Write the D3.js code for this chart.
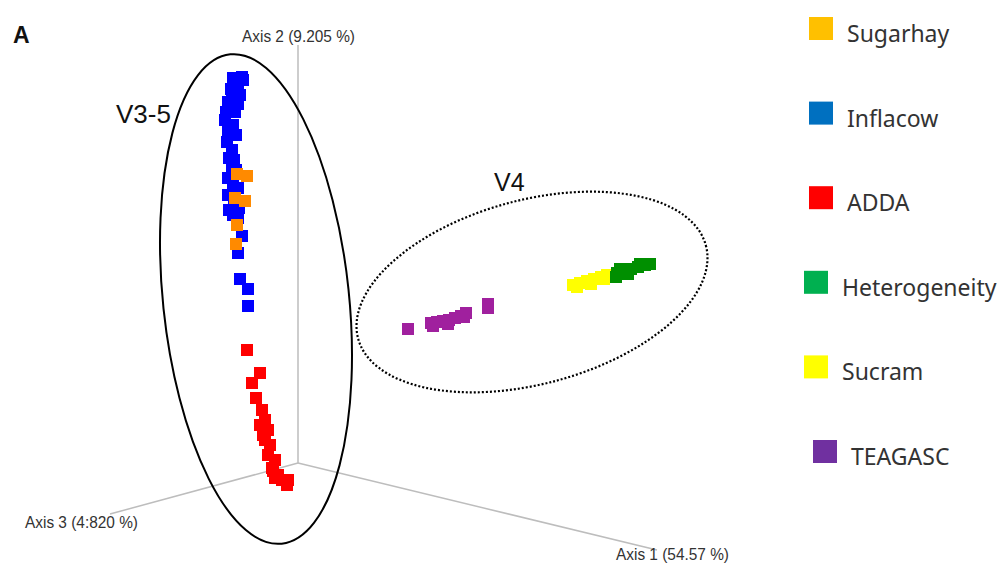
<!DOCTYPE html>
<meta charset="utf-8">
<style>
body { margin: 0; background: #fff; }
svg { display: block; }
.axis-line { stroke: #bdbdbd; stroke-width: 1.5; fill: none; }
.axis-label { font-family: "Liberation Sans", Arial, sans-serif; font-size: 17px; fill: #333; }
.group-label { font-family: "Liberation Sans", Arial, sans-serif; fill: #111; }
.legend text { font-family: "Noto Sans", "Open Sans", sans-serif; font-size: 23px; fill: #333; }
</style>
<svg width="999" height="563"></svg>
<script src="https://d3js.org/d3.v7.min.js"></script>
<script>

// projected PCoA coordinates (u = horizontal, v = vertical, origin at axes origin)
var sugarhay = [[-61, 289], [-51, 287], [-63, 265], [-53, 262], [-61, 238], [-62, 219]];

var inflacow = [
  [-65, 385], [-55, 383], [-60, 377], [-66, 368], [-58, 368], [-70, 361], [-60, 359],
  [-72, 351], [-63, 351], [-73, 343], [-65, 338], [-70, 331], [-62, 328], [-71, 321],
  [-66, 313], [-69, 305], [-64, 303], [-66, 295], [-62, 293], [-70, 285], [-65, 280],
  [-60, 275], [-70, 268], [-64, 261], [-59, 255], [-69, 253], [-65, 248], [-60, 245],
  [-56, 227], [-60, 210], [-58, 184], [-50, 174], [-50, 157], [-56, 386], [-67, 374]
];

var adda = [
  [-51, 113], [-38, 90], [-46, 80], [-42, 65], [-36, 53], [-33, 43], [-38, 38],
  [-30, 33], [-33, 23], [-28, 18], [-30, 8], [-23, 3], [-26, -5], [-20, -12],
  [-23, -15], [-16, -17], [-10, -17], [-11, -22], [-35, 28], [-25, -8]
];

var heterogeneity = [
  [319, 190], [326, 192], [333, 194], [340, 196], [347, 198], [352, 199],
  [322, 194], [342, 199], [318, 186], [330, 189]
];

var sucram = [[275, 178], [282, 180], [289, 182], [296, 184], [303, 186], [309, 188], [279, 176], [293, 179], [306, 184]];

var teagasc = [
  [110, 134], [133, 140], [139, 141], [145, 142], [151, 143], [157, 145], [163, 147],
  [168, 150], [190, 155], [135, 137], [150, 139], [166, 146], [190, 159]
];

var categories = ["Sugarhay", "Inflacow", "ADDA", "Heterogeneity", "Sucram", "TEAGASC"];
var legendColors = ["#ffc000", "#0070c0", "#ff0000", "#00b050", "#ffff00", "#7030a0"];
var pointColors = ["#ff8a00", "#0000ff", "#ff0000", "#008f00", "#ffff00", "#a0209e"];

var axisNames = ["Axis 1 (54.57 %)", "Axis 2 (9.205 %)", "Axis 3 (4:820 %)"];
var axisEnds = [[359, -87], [0, 418], [-188, -51]];

var svg = d3.select("svg");

var x = d3.scaleLinear().domain([0, 400]).range([298, 698]);
var y = d3.scaleLinear().domain([0, 420]).range([463, 43]);

// axes
svg.append("g").selectAll("line")
  .data(axisEnds)
  .join("line")
    .attr("class", "axis-line")
    .attr("x1", x(0)).attr("y1", y(0))
    .attr("x2", d => x(d[0])).attr("y2", d => y(d[1]));

var labelPos = [[318, -97], [-56, 421], [-273, -65]];
svg.append("g").selectAll("text")
  .data(axisNames)
  .join("text")
    .attr("class", "axis-label")
    .attr("x", (d, i) => x(labelPos[i][0]))
    .attr("y", (d, i) => y(labelPos[i][1]))
    .attr("textLength", 113)
    .attr("lengthAdjust", "spacingAndGlyphs")
    .text(d => d);

// points: draw order so that orange sits over blue
var series = [inflacow, sugarhay, adda, teagasc, sucram, heterogeneity];
var seriesIdx = [1, 0, 2, 5, 4, 3];
var size = 12;

series.forEach(function(pts, k) {
  svg.append("g").selectAll("rect")
    .data(pts)
    .join("rect")
      .attr("x", d => x(d[0]) - size / 2)
      .attr("y", d => y(d[1]) - size / 2)
      .attr("width", size)
      .attr("height", size)
      .attr("fill", pointColors[seriesIdx[k]]);
});

// group ellipses
svg.append("ellipse")
    .attr("transform", "translate(" + x(-42) + "," + y(164) + ") rotate(-6)")
    .attr("rx", 93).attr("ry", 246)
    .attr("fill", "none").attr("stroke", "#000").attr("stroke-width", 2);

svg.append("ellipse")
    .attr("transform", "translate(" + x(234) + "," + y(171) + ") rotate(-15)")
    .attr("rx", 180).attr("ry", 92)
    .attr("fill", "none").attr("stroke", "#000").attr("stroke-width", 2.2)
    .attr("stroke-dasharray", "2,2");

svg.append("text").attr("class", "group-label")
    .attr("x", 116).attr("y", 123).attr("font-size", 26).text("V3-5");
svg.append("text").attr("class", "group-label")
    .attr("x", 494).attr("y", 191).attr("font-size", 25).text("V4");

svg.append("text")
    .attr("x", 13).attr("y", 43)
    .attr("font-family", "Liberation Sans, Arial, sans-serif")
    .attr("font-weight", "bold").attr("font-size", 23).attr("fill", "#111")
    .text("A");

// legend
var ly = d3.scalePoint().domain(categories).range([17, 440]);
var shift = [0, 0, 0, -5, -5, 4];

var legend = svg.append("g").attr("class", "legend")
  .selectAll("g")
  .data(categories)
  .join("g")
    .attr("transform", (d, i) => "translate(" + (809 + shift[i]) + "," + ly(d) + ")");

legend.append("rect")
    .attr("width", 24).attr("height", 23)
    .attr("fill", (d, i) => legendColors[i]);

legend.append("text")
    .attr("x", 38).attr("y", 25)
    .text(d => d);

</script>
